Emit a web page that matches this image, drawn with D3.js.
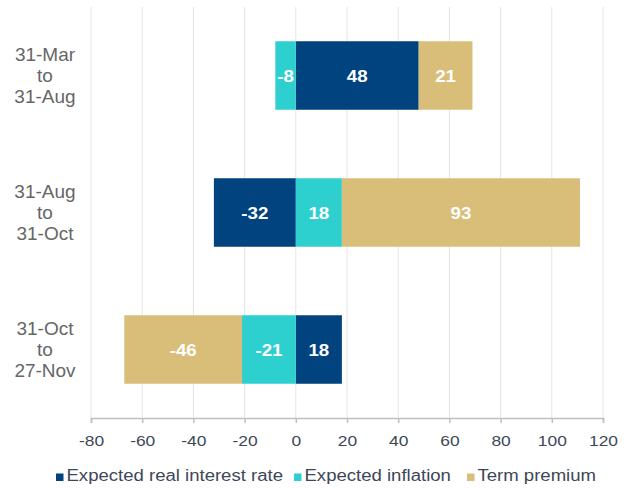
<!DOCTYPE html>
<html>
<head>
<meta charset="utf-8">
<script src="https://cdn.jsdelivr.net/npm/d3@7"></script>
<style>
  html, body { margin: 0; padding: 0; background: #fff; }
  svg { display: block; font-family: "Liberation Sans", Arial, sans-serif; }
</style>
</head>
<body>
<svg id="chart" width="631" height="488"></svg>
<script>
// Periods (each label split over three lines)
const periods = [
  ["31-Mar", "to", "31-Aug"],
  ["31-Aug", "to", "31-Oct"],
  ["31-Oct", "to", "27-Nov"]
];
// Contributions in basis points, per period
const realRate  = [48, -32, 18];
const inflation = [-8, 18, -21];
const termPrem  = [21, 93, -46];

const seriesNames  = ["Expected real interest rate", "Expected inflation", "Term premium"];
const seriesKeys   = ["real", "infl", "term"];
const seriesColors = ["#00437f", "#2ecfcf", "#d8be78"];
const xTicks = [-80, -60, -40, -20, 0, 20, 40, 60, 80, 100, 120];

const rows = periods.map((p, i) => ({
  period: p.join(" "),
  lines: p,
  real: realRate[i],
  infl: inflation[i],
  term: termPrem[i]
}));

const svg = d3.select("#chart");
const margin = { top: 7, right: 28, bottom: 70, left: 91 };
const width = 631 - margin.left - margin.right;
const height = 488 - margin.top - margin.bottom;

// axis and legend text is drawn slightly wide
const WIDEN = 1.16;

const x = d3.scaleLinear().domain([-80, 120]).range([0, width]);
const y = d3.scaleBand().domain(rows.map(d => d.period)).range([0, height]).paddingInner(0.5).paddingOuter(0.25);

const g = svg.append("g").attr("transform", `translate(${margin.left},${margin.top})`);

// vertical gridlines
g.append("g").selectAll("line").data(xTicks).join("line")
  .attr("x1", d => x(d)).attr("x2", d => x(d))
  .attr("y1", 0).attr("y2", height)
  .attr("stroke", "#e4e4e4").attr("stroke-width", 1);

// stacked, diverging bars
const stack = d3.stack().keys(seriesKeys).offset(d3.stackOffsetDiverging);
const layers = stack(rows);

const layerG = g.append("g").selectAll("g").data(layers).join("g")
  .attr("fill", (d, i) => seriesColors[i]);

layerG.selectAll("rect").data(d => d.map(s => ({ s, row: s.data, key: d.key }))).join("rect")
  .attr("x", d => x(Math.min(d.s[0], d.s[1])))
  .attr("width", d => Math.abs(x(d.s[1]) - x(d.s[0])))
  .attr("y", d => y(d.row.period))
  .attr("height", y.bandwidth());

// value labels
layerG.selectAll("text").data(d => d.map(s => ({ s, row: s.data, key: d.key }))).join("text")
  .attr("transform", d => `translate(${(x(d.s[0]) + x(d.s[1])) / 2},${y(d.row.period) + y.bandwidth() / 2}) scale(1.1,1)`)
  .attr("dy", "0.36em")
  .attr("text-anchor", "middle")
  .attr("fill", "#ffffff")
  .attr("font-weight", "bold")
  .attr("font-size", 17)
  .text(d => d.row[d.key]);

// x axis
const xAxis = g.append("g").attr("transform", `translate(0,${height})`)
  .call(d3.axisBottom(x).tickValues(xTicks).tickSize(5).tickFormat(d => String(d)));
xAxis.select(".domain").attr("stroke", "#bfbfbf").attr("stroke-width", 1.5);
xAxis.selectAll(".tick line").attr("stroke", "#bfbfbf").attr("stroke-width", 1.5);
xAxis.selectAll(".tick text")
  .attr("y", 28).attr("dy", 0)
  .attr("transform", `scale(${WIDEN},1)`)
  .attr("fill", "#3d4757")
  .attr("font-size", 15)
  .attr("font-family", "Liberation Sans, Arial, sans-serif");

// category labels
const cat = svg.append("g").selectAll("text").data(rows).join("text")
  .attr("text-anchor", "middle")
  .attr("fill", "#666666")
  .attr("font-size", 19)
  .attr("transform", d => `translate(45,${margin.top + y(d.period) + y.bandwidth() / 2})`);
cat.selectAll("tspan").data(d => d.lines).join("tspan")
  .attr("x", 0)
  .attr("y", (d, i) => (i - 1) * 21)
  .attr("dy", "0.36em")
  .text(d => d);

// legend
const legendX = [56, 294, 467];
const legend = svg.append("g").selectAll("g").data(seriesNames).join("g")
  .attr("transform", (d, i) => `translate(${legendX[i]},481)`);
legend.append("rect")
  .attr("x", 0).attr("y", -7.5).attr("width", 7.5).attr("height", 7.5)
  .attr("fill", (d, i) => seriesColors[i]);
legend.append("text")
  .attr("transform", `translate(10.5,0) scale(${WIDEN},1)`)
  .attr("fill", "#3d4757")
  .attr("font-size", 16)
  .text(d => d);
</script>
</body>
</html>
